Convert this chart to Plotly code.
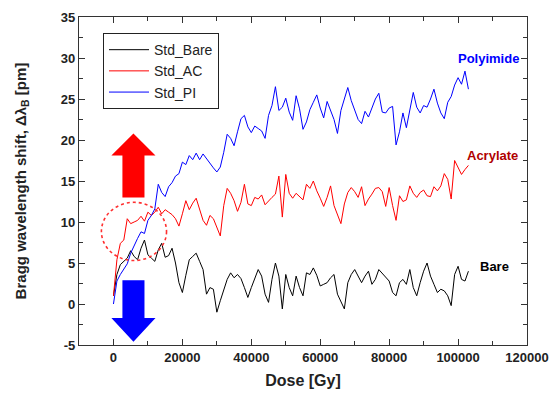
import plotly.graph_objects as go

dose_kGy = list(range(0, 104))
dose = [d * 1000 for d in dose_kGy]

std_pi = [0.0, 2.8, 3.6, 4.3, 4.9, 6.2, 7.2, 8.0, 8.8, 8.6,
          10.2, 10.8, 11.6, 14.6, 13.6, 13.1, 14.3, 14.8, 15.6, 15.9,
          17.3, 17.0, 18.1, 17.6, 18.4, 17.6, 18.3, 17.7, 17.2, 16.6,
          16.1, 16.7, 18.5, 20.7, 20.2, 19.3, 21.0, 22.6, 23.0, 21.6,
          20.9, 21.7, 21.4, 21.1, 20.2, 23.0, 24.2, 26.5, 23.6, 24.0,
          25.1, 23.4, 22.4, 25.4, 23.8, 21.3, 22.2, 23.7, 24.6, 25.5,
          23.9, 22.7, 24.7, 23.6, 22.5, 20.8, 23.6, 25.0, 26.4, 24.8,
          23.7, 22.5, 22.0, 23.5, 22.8, 24.0, 25.0, 25.7, 23.4, 23.3,
          23.9, 24.1, 19.4, 21.0, 23.3, 21.5, 23.8, 25.8, 24.0, 23.3,
          24.2, 24.0, 25.0, 26.2, 24.5, 23.3, 22.6, 24.6, 25.3, 26.7,
          27.6, 26.8, 28.4, 26.2]

std_ac = [1.0, 5.4, 7.4, 7.8, 10.4, 9.8, 10.0, 10.2, 10.7, 10.1,
          11.2, 10.8, 11.2, 11.8, 11.0, 11.5, 11.2, 10.9, 10.4, 9.5,
          11.0, 12.6, 11.5, 12.3, 12.9, 11.5, 10.2, 9.6, 10.8, 10.4,
          9.4, 8.3, 12.0, 14.1, 13.5, 12.6, 11.3, 12.4, 14.6, 12.2,
          12.0, 13.0, 12.8, 13.3, 12.1, 12.6, 13.0, 13.4, 15.6, 10.6,
          15.8, 13.5, 12.9, 13.5, 13.1, 12.7, 14.6, 14.1, 15.0, 13.8,
          12.9, 11.9, 13.0, 14.4, 12.0, 10.8, 9.8, 12.2, 13.6, 14.2,
          13.7, 13.0, 14.3, 12.0, 12.8, 13.4, 14.1, 14.2, 13.7, 11.9,
          14.2, 12.0, 10.2, 13.2, 12.5, 12.7, 14.4, 13.5, 13.0, 13.6,
          13.9, 13.2, 13.1, 14.3, 13.8, 14.4, 15.9, 15.2, 12.8, 17.5,
          16.7, 15.8, 16.4, 16.9]

std_bare = [1.0, 3.6, 4.8, 5.2, 5.6, 6.5, 5.8, 5.4, 6.8, 7.8,
            6.0, 5.6, 5.2, 6.6, 7.4, 5.7, 5.9, 6.8, 5.0, 2.6,
            1.4, 3.5, 5.4, 5.8, 6.2, 5.2, 4.2, 1.2, 2.0, 1.8,
            -1.0, 0.4, 1.8, 3.0, 3.8, 3.2, 3.6, 3.1, 2.0, 0.8,
            2.0, 3.0, 4.2, 3.4, 1.2, 0.2, 3.0, 5.0, 3.4, -0.6,
            3.6, 2.0, 1.0, 3.4, 2.0, 1.0, 3.8, 3.6, 4.4, 3.5,
            2.2, 2.4, 2.6, 3.2, 3.6, 1.2, 0.2, -0.6, 2.6, 3.6,
            4.2, 3.3, 2.6, 3.4, 4.0, 2.4, 3.0, 4.2, 3.7, 3.3,
            2.8, 1.4, 1.0, 2.6, 3.0, 2.4, 4.2, 2.0, 1.0, 2.6,
            4.0, 5.0, 3.4, 2.4, 1.4, 1.8, 1.6, 1.0, -0.2, 3.6,
            4.6, 3.0, 2.8, 4.0]

x_ticks = [0, 20000, 40000, 60000, 80000, 100000, 120000]
y_ticks = [-5, 0, 5, 10, 15, 20, 25, 30, 35]

FONT = "Liberation Sans, Arial, sans-serif"

fig = go.Figure()
fig.add_trace(go.Scatter(x=dose, y=std_bare, mode="lines", name="Std_Bare",
                         line=dict(color="black", width=1)))
fig.add_trace(go.Scatter(x=dose, y=std_ac, mode="lines", name="Std_AC",
                         line=dict(color="#FF0000", width=1)))
fig.add_trace(go.Scatter(x=dose, y=std_pi, mode="lines", name="Std_PI",
                         line=dict(color="#0000FF", width=1)))

# red up arrow
fig.add_shape(type="path",
              path="M 2600 13 L 9000 13 L 9000 18.1 L 12200 18.1 L 5800 20.8 L -600 18.1 L 2600 18.1 Z",
              xref="x", yref="y", fillcolor="#FF0000", line=dict(width=0), layer="above")
# blue down arrow
fig.add_shape(type="path",
              path="M 2600 2.9 L 9000 2.9 L 9000 -1.7 L 12200 -1.7 L 5800 -4.6 L -600 -1.7 L 2600 -1.7 Z",
              xref="x", yref="y", fillcolor="#0000FF", line=dict(width=0), layer="above")
# dotted ellipse
fig.add_shape(type="circle", x0=-3500, x1=15400, y0=5.3, y1=12.4, xref="x", yref="y",
              line=dict(color="#FF3030", width=1.6, dash="dot"))

fig.add_annotation(x=108700, y=29.9, text="<b>Polyimide</b>", showarrow=False,
                   font=dict(family=FONT, size=13, color="#0000FF"))
fig.add_annotation(x=110000, y=18.1, text="<b>Acrylate</b>", showarrow=False,
                   font=dict(family=FONT, size=13, color="#B00000"))
fig.add_annotation(x=110700, y=4.6, text="<b>Bare</b>", showarrow=False,
                   font=dict(family=FONT, size=13, color="#000000"))

axis_common = dict(showline=True, linecolor="#333333", linewidth=1.3, mirror="allticks",
                   ticks="inside", ticklen=6, tickcolor="#333333", tickwidth=1,
                   showgrid=False, zeroline=False, automargin=False,
                   tickfont=dict(family=FONT, size=13, color="#222222"))

fig.update_xaxes(range=[-10000, 120000], tickvals=x_ticks,
                 ticktext=[f"<b>{v}</b>" for v in x_ticks],
                 minor=dict(ticks="inside", ticklen=3.5, dtick=10000, tick0=0, tickcolor="#333333"),
                 title=dict(text="<b>Dose [Gy]</b>", font=dict(family=FONT, size=16, color="#222222"),
                            standoff=11),
                 **axis_common)
fig.update_yaxes(range=[-5, 35], tickvals=y_ticks,
                 ticktext=[f"<b>{v}</b>" for v in y_ticks],
                 minor=dict(ticks="inside", ticklen=3.5, dtick=2.5, tick0=0, tickcolor="#333333"),
                 title=dict(text="<b>Bragg wavelength shift, Δλ<sub>B</sub> [pm]</b>",
                            font=dict(family=FONT, size=15, color="#222222"), standoff=30),
                 **axis_common)

# the page body adds an 8px offset, so the figure is sized 550x391
fig.update_layout(
    width=550, height=391,
    margin=dict(l=71, r=31, t=9, b=54),
    paper_bgcolor="white", plot_bgcolor="white",
    showlegend=True,
    legend=dict(x=0.0536, y=0.951, xanchor="left", yanchor="top",
                bgcolor="white", bordercolor="#222222", borderwidth=1,
                font=dict(family=FONT, size=14, color="#222222"),
                tracegroupgap=0, itemwidth=40),
)

fig.write_html("out.html")
